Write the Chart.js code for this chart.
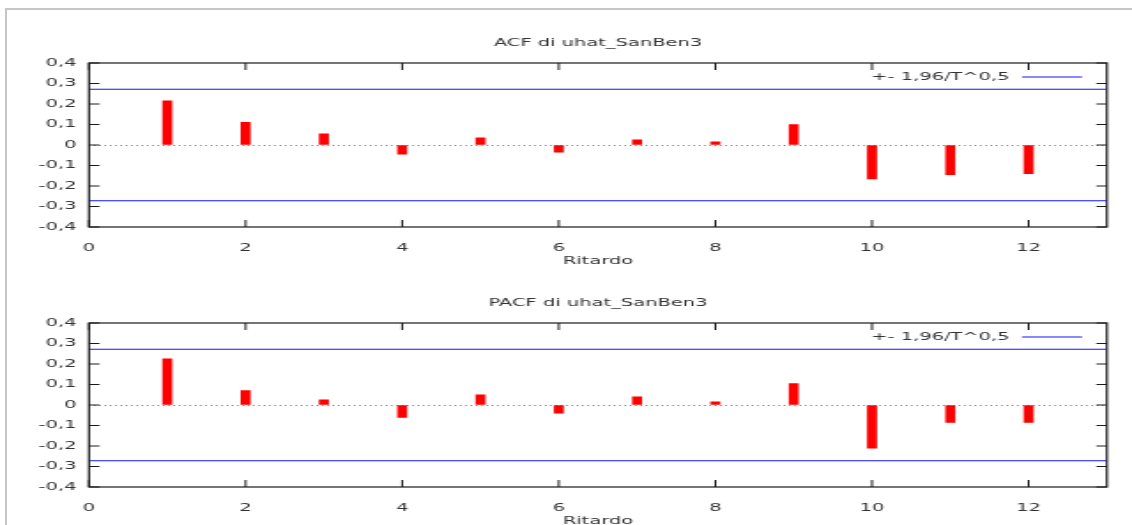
<!DOCTYPE html>
<html>
<head>
<meta charset="utf-8">
<script src="https://cdn.jsdelivr.net/npm/chart.js@4.4.0/dist/chart.umd.min.js"></script>
<style>
html, body { margin: 0; padding: 0; background: #fff; overflow: hidden; }
body { width: 1132px; height: 525px; position: relative; }
.frame { position: absolute; left: 5px; top: 8px; right: 0; bottom: 0; border-left: 2px solid #c6c6c6; border-top: 2px solid #c6c6c6; }
canvas { position: absolute; left: 0; }
</style>
</head>
<body>
<div class="frame"></div>
<canvas id="acfChart" width="640" height="280" style="top:0;width:1132px;height:280px"></canvas>
<canvas id="pacfChart" width="640" height="280" style="top:260px;width:1132px;height:280px"></canvas>
<script>
// Dati (ritardi 1..12)
const lags = [1, 2, 3, 4, 5, 6, 7, 8, 9, 10, 11, 12];
const acfValues = [0.215, 0.11, 0.055, -0.045, 0.035, -0.035, 0.025, 0.015, 0.10, -0.165, -0.145, -0.14];
const pacfValues = [0.225, 0.07, 0.025, -0.06, 0.05, -0.04, 0.04, 0.015, 0.105, -0.21, -0.085, -0.085];
const bandLimit = 0.272;          // +- 1,96/T^0,5
const xRange = [0, 13];
const xTicks = [0, 2, 4, 6, 8, 10, 12];
const yTicks = [-0.4, -0.3, -0.2, -0.1, 0, 0.1, 0.2, 0.3, 0.4];
const legendLabel = '+- 1,96/T^0,5';

const FONT = { family: "'DejaVu Sans', sans-serif", size: 11, weight: 'normal' };
const TEXT_COLOR = '#333';

Chart.defaults.font.family = FONT.family;
Chart.defaults.font.size = FONT.size;

// cornice, tacche interne (stile gnuplot) e legenda
const frameTicks = {
    id: 'frameTicks',
    afterDraw(chart) {
        const { ctx, chartArea: a, scales: { x, y } } = chart;
        ctx.save();
        ctx.strokeStyle = '#1a1a1a';
        ctx.lineWidth = 1;
        ctx.beginPath();
        y.ticks.forEach(t => {
            const py = y.getPixelForValue(t.value);
            ctx.moveTo(a.left, py); ctx.lineTo(a.left + 6, py);
            ctx.moveTo(a.right, py); ctx.lineTo(a.right - 6, py);
        });
        x.ticks.forEach(t => {
            const px = x.getPixelForValue(t.value);
            ctx.moveTo(px, a.top); ctx.lineTo(px, a.top + 7);
            ctx.moveTo(px, a.bottom); ctx.lineTo(px, a.bottom - 7);
        });
        ctx.stroke();
        ctx.lineWidth = 1.2;
        ctx.strokeRect(a.left, a.top, a.right - a.left, a.bottom - a.top);

        // legenda in alto a destra
        const band = chart.data.datasets[1];
        const ly = a.top + 14;
        ctx.font = `${FONT.size}px ${FONT.family}`;
        ctx.fillStyle = TEXT_COLOR;
        ctx.textAlign = 'right';
        ctx.textBaseline = 'middle';
        ctx.fillText(legendLabel, a.right - 55, ly);
        ctx.strokeStyle = band.borderColor;
        ctx.lineWidth = band.borderWidth;
        ctx.beginPath();
        ctx.moveTo(a.right - 48, ly);
        ctx.lineTo(a.right - 14, ly);
        ctx.stroke();
        ctx.restore();
    }
};

function fmtY(v) {
    if (Math.abs(v) < 1e-9) return '0';
    return v.toFixed(1).replace('.', ',');
}

function makeChart(id, title, values) {
    return new Chart(document.getElementById(id), {
        type: 'bar',
        data: {
            datasets: [
                { type: 'bar', data: lags.map((l, i) => ({ x: l, y: values[i] })), backgroundColor: '#ff0000', barThickness: 5, order: 2 },
                { type: 'line', data: xRange.map(v => ({ x: v, y: bandLimit })), borderColor: '#1515f5', borderWidth: 1.2, pointRadius: 0, order: 1 },
                { type: 'line', data: xRange.map(v => ({ x: v, y: -bandLimit })), borderColor: '#1515f5', borderWidth: 1.2, pointRadius: 0, order: 1 }
            ]
        },
        options: {
            responsive: false,
            animation: false,
            devicePixelRatio: 1,
            layout: { padding: { left: 0, right: 14.2, top: 0, bottom: 0 } },
            plugins: {
                legend: { display: false },
                tooltip: { enabled: false },
                title: {
                    display: true, text: title, color: TEXT_COLOR, font: FONT,
                    fullSize: false,
                    padding: { top: 36.4, bottom: 13.4 }
                }
            },
            scales: {
                x: {
                    type: 'linear', min: xRange[0], max: xRange[1], offset: false,
                    afterBuildTicks: s => { s.ticks = xTicks.map(v => ({ value: v })); },
                    afterFit: s => { s.height = 53; },
                    grid: { display: false },
                    border: { display: false },
                    ticks: { padding: 7, color: TEXT_COLOR, font: FONT, callback: v => String(v) },
                    title: { display: true, text: 'Ritardo', color: TEXT_COLOR, font: FONT, padding: { top: 0, bottom: 12.4 } }
                },
                y: {
                    min: yTicks[0], max: yTicks[yTicks.length - 1],
                    afterBuildTicks: s => { s.ticks = yTicks.map(v => ({ value: v })); },
                    afterFit: s => { s.width = 50.3; },
                    grid: {
                        color: c => (c.tick && Math.abs(c.tick.value) < 1e-9) ? '#8a8a8a' : 'rgba(0,0,0,0)',
                        drawTicks: false, lineWidth: 1
                    },
                    border: { display: false, dash: [1, 2] },
                    ticks: { padding: 7, color: TEXT_COLOR, font: FONT, callback: v => fmtY(v) }
                }
            }
        },
        plugins: [frameTicks]
    });
}

makeChart('acfChart', 'ACF di uhat_SanBen3', acfValues);
makeChart('pacfChart', 'PACF di uhat_SanBen3', pacfValues);
</script>
</body>
</html>
